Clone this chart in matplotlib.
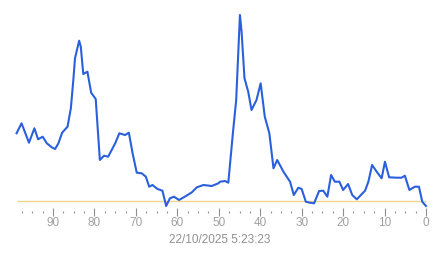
import numpy as np
import matplotlib.pyplot as plt
from matplotlib.ticker import MultipleLocator

# ---- data (x counts down to 0 at the right) ----
x = [98.8, 97.6, 95.8, 94.5, 93.6, 92.5, 91.5, 90.3, 89.5, 88.7,
     87.8, 86.5, 85.7, 85.1, 84.7, 83.7, 83.3, 82.7, 81.7, 80.8,
     79.7, 79.3, 78.7, 77.7, 76.7, 75.0, 74.0, 72.6, 71.7, 70.8,
     69.8, 68.6, 67.6, 66.8, 66.0, 64.8, 63.6, 62.7, 61.8, 60.8,
     59.6, 58.2, 56.5, 55.3, 53.7, 51.7, 50.1, 49.7, 48.5, 47.7,
     46.6, 45.8, 44.9, 44.5, 43.8, 42.9, 42.1, 40.9, 39.9, 38.9,
     37.8, 36.8, 35.9, 34.4, 32.8, 31.9, 30.8, 30.0, 29.0, 28.0,
     27.0, 25.8, 24.8, 23.8, 22.9, 22.0, 20.9, 20.0, 18.8, 17.8,
     16.7, 14.7, 13.9, 13.0, 11.9, 10.7, 9.9, 8.9, 7.1, 5.9,
     5.1, 4.0, 2.7, 1.7, 0.9, 0.0]
values = [67.2, 77.2, 57.8, 72.2, 61.2, 63.8, 57.2, 53.2, 51.5, 57.2,
          67.8, 73.8, 92.2, 120.5, 142.2, 159.8, 153.8, 126.5, 128.8, 107.8,
          101.5, 77.2, 40.5, 44.8, 43.8, 57.2, 67.2, 65.5, 67.8, 47.2,
          27.8, 27.2, 23.8, 13.8, 15.5, 11.5, 9.8, -5.5, 2.2, 3.8,
          0.5, 3.8, 8.2, 13.2, 15.5, 14.5, 17.2, 18.8, 19.5, 17.8,
          67.2, 100.5, 185.5, 168.8, 122.2, 108.8, 90.5, 100.5, 117.2, 83.8,
          67.2, 32.2, 40.5, 28.8, 18.8, 5.5, 12.8, 11.5, -1.2, -2.2,
          -2.8, 9.5, 9.8, 3.8, 25.5, 18.8, 18.8, 10.5, 16.5, 5.5,
          1.2, 9.8, 18.8, 35.5, 28.8, 22.2, 38.8, 23.2, 22.8, 22.8,
          24.8, 10.5, 13.8, 13.8, -1.2, -5.5]
baseline = 0.0
major_ticks = [0, 10, 20, 30, 40, 50, 60, 70, 80, 90]
date_label = "22/10/2025 5:23:23"

plt.rcParams['font.family'] = ['Liberation Sans', 'DejaVu Sans']

fig = plt.figure(figsize=(4.43, 2.58), dpi=100)
ax = fig.add_axes([3.3 / 443, 1 - 211.5 / 258, 106 * 4.144 / 443, 211.5 / 258])
ax.set_xlim(102, -4)
ax.set_ylim(-11, 200.5)

ax.hlines(baseline, 0, x[0], color="#f0d68a", linewidth=1.0, zorder=1)
ax.plot(x, values, "-", color="#2b60dc", linewidth=1.5, zorder=2)

for s in ax.spines.values():
    s.set_visible(False)
ax.set_yticks([])
ax.set_xticks(major_ticks)
ax.xaxis.set_minor_locator(MultipleLocator(2.5))
ax.set_xticks([t * 2.5 for t in range(40) if t % 4 != 0], minor=True)
ax.tick_params(axis="x", which="major", direction="inout", length=5.5,
               width=0.8, color="#909090", labelcolor="#a0a0a0",
               labelsize=8.5, pad=1.5)
ax.tick_params(axis="x", which="minor", direction="inout", length=1.2,
               width=0.8, color="#909090")

fig.text(220 / 443, 1 - 240 / 258, date_label, ha="center", va="center",
         color="#909090", fontsize=8.5)

fig.savefig("out.png", dpi=100)
